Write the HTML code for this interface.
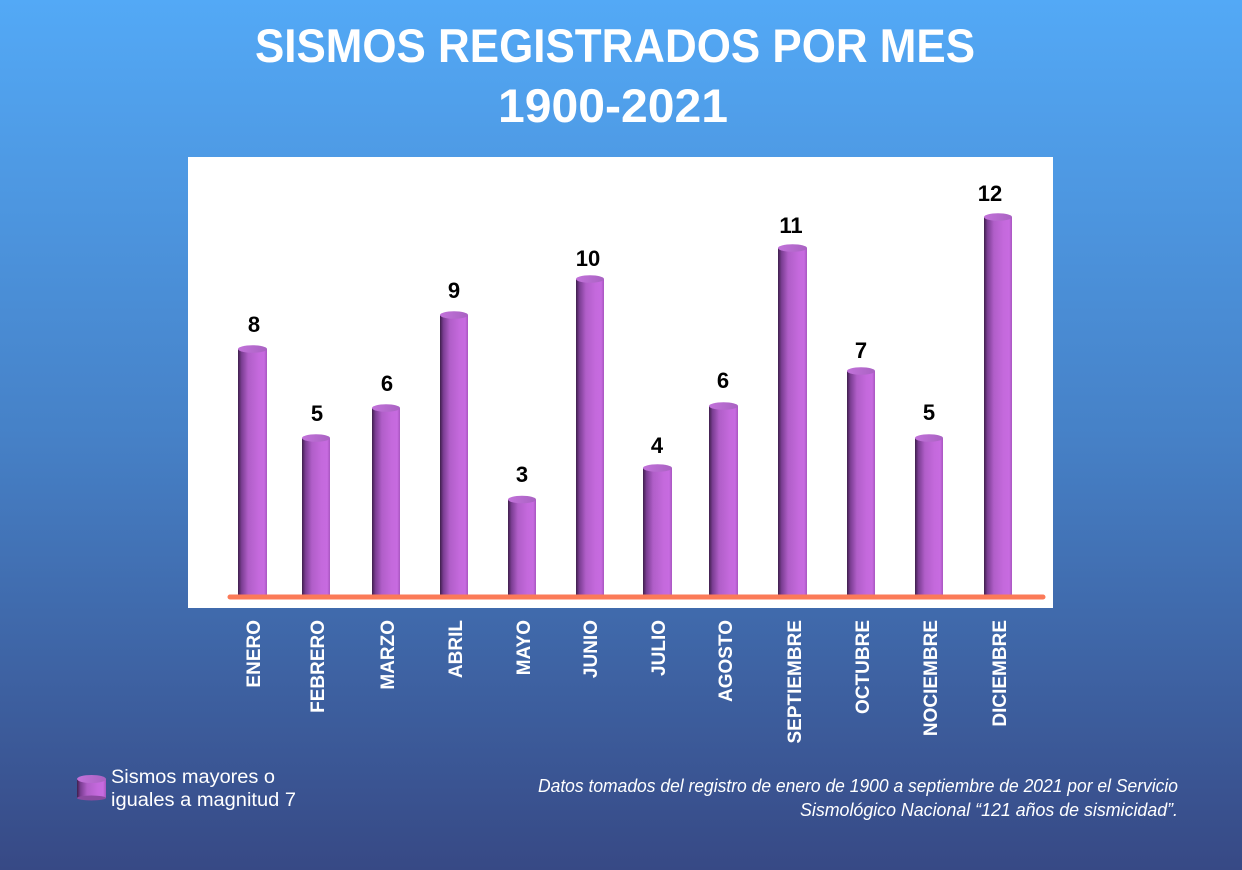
<!DOCTYPE html>
<html>
<head>
<meta charset="utf-8">
<style>
  html, body { margin: 0; padding: 0; }
  body { width: 1242px; height: 870px; overflow: hidden; }
  svg { display: block; }
</style>
</head>
<body>
<svg width="1242" height="870" viewBox="0 0 1242 870" xmlns="http://www.w3.org/2000/svg">
  <defs>
    <linearGradient id="bg" x1="0" y1="0" x2="0" y2="1">
      <stop offset="0" stop-color="#53a9f6"/>
      <stop offset="0.5" stop-color="#4681c7"/>
      <stop offset="1" stop-color="#374985"/>
    </linearGradient>
    <linearGradient id="cyl" x1="0" y1="0" x2="1" y2="0">
      <stop offset="0" stop-color="#3e1f4c"/>
      <stop offset="0.12" stop-color="#7a3d92"/>
      <stop offset="0.35" stop-color="#b05ec8"/>
      <stop offset="0.7" stop-color="#c469dc"/>
      <stop offset="0.9" stop-color="#c76be0"/>
      <stop offset="1" stop-color="#a856c0"/>
    </linearGradient>
    <linearGradient id="topg" x1="0" y1="0" x2="1" y2="0">
      <stop offset="0" stop-color="#c272da"/>
      <stop offset="1" stop-color="#a962c2"/>
    </linearGradient>
  </defs>

  <rect x="0" y="0" width="1242" height="870" fill="url(#bg)"/>

  <!-- Title -->
  <g font-family="'Liberation Sans', Arial, sans-serif" font-weight="bold" fill="#ffffff">
    <text x="615" y="62" font-size="47" text-anchor="middle" textLength="720" lengthAdjust="spacingAndGlyphs">SISMOS REGISTRADOS POR MES</text>
    <text x="613" y="122" font-size="47" text-anchor="middle" textLength="230" lengthAdjust="spacingAndGlyphs">1900-2021</text>
  </g>

  <!-- Panel -->
  <rect x="188" y="157" width="865" height="451" fill="#ffffff"/>

  <!-- Bars -->
  <g id="bars">
    <!-- ENERO 8 -->
    <rect x="238" y="349" width="29" height="247" fill="url(#cyl)"/>
    <ellipse cx="252.5" cy="349" rx="14.5" ry="3.8" fill="url(#topg)"/>
    <!-- FEBRERO 5 -->
    <rect x="302" y="438" width="28" height="158" fill="url(#cyl)"/>
    <ellipse cx="316" cy="438" rx="14" ry="3.8" fill="url(#topg)"/>
    <!-- MARZO 6 -->
    <rect x="372" y="408" width="28" height="188" fill="url(#cyl)"/>
    <ellipse cx="386" cy="408" rx="14" ry="3.8" fill="url(#topg)"/>
    <!-- ABRIL 9 -->
    <rect x="440" y="315" width="28" height="281" fill="url(#cyl)"/>
    <ellipse cx="454" cy="315" rx="14" ry="3.8" fill="url(#topg)"/>
    <!-- MAYO 3 -->
    <rect x="508" y="499.5" width="28" height="96.5" fill="url(#cyl)"/>
    <ellipse cx="522" cy="499.5" rx="14" ry="3.8" fill="url(#topg)"/>
    <!-- JUNIO 10 -->
    <rect x="576" y="279" width="28" height="317" fill="url(#cyl)"/>
    <ellipse cx="590" cy="279" rx="14" ry="3.8" fill="url(#topg)"/>
    <!-- JULIO 4 -->
    <rect x="643" y="468" width="29" height="128" fill="url(#cyl)"/>
    <ellipse cx="657.5" cy="468" rx="14.5" ry="3.8" fill="url(#topg)"/>
    <!-- AGOSTO 6 -->
    <rect x="709" y="406" width="29" height="190" fill="url(#cyl)"/>
    <ellipse cx="723.5" cy="406" rx="14.5" ry="3.8" fill="url(#topg)"/>
    <!-- SEPTIEMBRE 11 -->
    <rect x="778" y="248" width="29" height="348" fill="url(#cyl)"/>
    <ellipse cx="792.5" cy="248" rx="14.5" ry="3.8" fill="url(#topg)"/>
    <!-- OCTUBRE 7 -->
    <rect x="847" y="371" width="28" height="225" fill="url(#cyl)"/>
    <ellipse cx="861" cy="371" rx="14" ry="3.8" fill="url(#topg)"/>
    <!-- NOVIEMBRE 5 -->
    <rect x="915" y="438" width="28" height="158" fill="url(#cyl)"/>
    <ellipse cx="929" cy="438" rx="14" ry="3.8" fill="url(#topg)"/>
    <!-- DICIEMBRE 12 -->
    <rect x="984" y="217" width="28" height="379" fill="url(#cyl)"/>
    <ellipse cx="998" cy="217" rx="14" ry="3.8" fill="url(#topg)"/>
  </g>

  <!-- Baseline -->
  <line x1="230" y1="597" x2="1043" y2="597" stroke="#fb7a58" stroke-width="5" stroke-linecap="round"/>

  <!-- Value labels -->
  <g font-family="'Liberation Sans', Arial, sans-serif" font-weight="bold" font-size="22" fill="#000000" text-anchor="middle">
    <text x="254" y="332">8</text>
    <text x="317" y="421">5</text>
    <text x="387" y="391">6</text>
    <text x="454" y="298">9</text>
    <text x="522" y="482">3</text>
    <text x="588" y="266">10</text>
    <text x="657" y="453">4</text>
    <text x="723" y="388">6</text>
    <text x="791" y="233">11</text>
    <text x="861" y="358">7</text>
    <text x="929" y="420">5</text>
    <text x="990" y="201">12</text>
  </g>

  <!-- Month labels (rotated) -->
  <g font-family="'Liberation Sans', Arial, sans-serif" font-weight="bold" font-size="19" fill="#ffffff" text-anchor="end">
    <text transform="translate(260,620) rotate(-90)">ENERO</text>
    <text transform="translate(324,620) rotate(-90)">FEBRERO</text>
    <text transform="translate(394,620) rotate(-90)">MARZO</text>
    <text transform="translate(462,620) rotate(-90)">ABRIL</text>
    <text transform="translate(530,620) rotate(-90)">MAYO</text>
    <text transform="translate(597,620) rotate(-90)">JUNIO</text>
    <text transform="translate(665,620) rotate(-90)">JULIO</text>
    <text transform="translate(732,620) rotate(-90)">AGOSTO</text>
    <text transform="translate(801,620) rotate(-90)">SEPTIEMBRE</text>
    <text transform="translate(869,620) rotate(-90)">OCTUBRE</text>
    <text transform="translate(937,620) rotate(-90)">NOCIEMBRE</text>
    <text transform="translate(1006,620) rotate(-90)">DICIEMBRE</text>
  </g>

  <!-- Legend -->
  <g>
    <rect x="77" y="779" width="29" height="19" fill="url(#cyl)"/>
    <ellipse cx="91.5" cy="798" rx="14.5" ry="2.5" fill="#8a4aa0"/>
    <ellipse cx="91.5" cy="779" rx="14.5" ry="4" fill="url(#topg)"/>
  </g>
  <g font-family="'Liberation Sans', Arial, sans-serif" font-size="19" fill="#ffffff">
    <text x="111" y="783" textLength="164" lengthAdjust="spacingAndGlyphs">Sismos mayores o</text>
    <text x="111" y="806" textLength="185" lengthAdjust="spacingAndGlyphs">iguales a magnitud 7</text>
  </g>

  <!-- Footnote -->
  <g font-family="'Liberation Sans', Arial, sans-serif" font-style="italic" font-size="18" fill="#ffffff" text-anchor="end">
    <text x="1178" y="792" textLength="640" lengthAdjust="spacingAndGlyphs">Datos tomados del registro de enero de 1900 a septiembre de 2021 por el Servicio</text>
    <text x="1178" y="816" textLength="378" lengthAdjust="spacingAndGlyphs">Sismológico Nacional  “121 años de sismicidad”.</text>
  </g>
</svg>
</body>
</html>
